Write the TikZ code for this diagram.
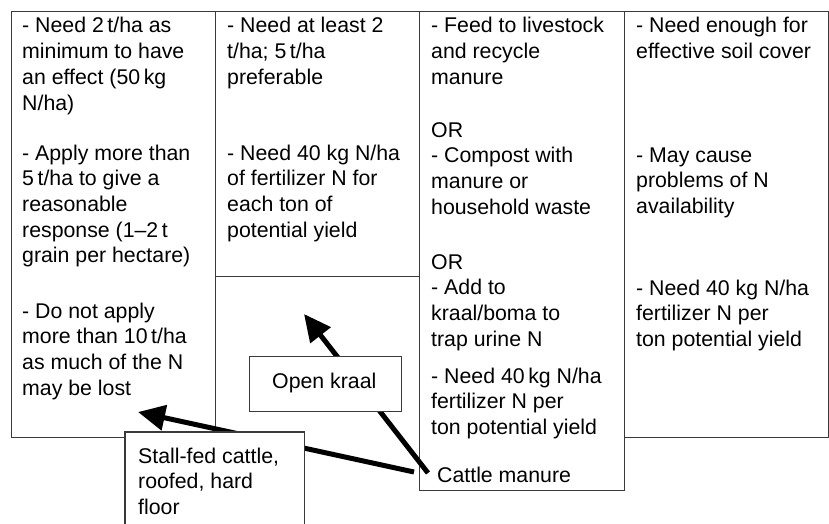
\documentclass[tikz,border=0pt]{standalone}
\usepackage{fontspec}
\setmainfont{Liberation Sans}
\usetikzlibrary{arrows.meta}
\definecolor{bordercol}{HTML}{3A3A3A}
\newcommand{\mylines}[1]{\begin{tabular}[t]{@{}l@{}}#1\end{tabular}}
\begin{document}
\begin{tikzpicture}[x=1pt,y=-1pt,
  cell/.style={draw=bordercol, line width=1.3pt, anchor=north west, inner sep=0pt},
  txt/.style={anchor=base west, inner sep=0pt, font=\fontsize{21.3}{25.7}\selectfont},
  arr/.style={line width=5pt, -{Triangle[length=27pt,width=25pt]}},
  lbl/.style={fill=white, inner sep=0pt, anchor=north west}]
\useasboundingbox (0,0) rectangle (829,524);
\fill[white] (0,0) rectangle (829,524);
% columns
\node[cell, minimum width=204pt, minimum height=426pt] (c1) at (11,11) {};
\node[cell, minimum width=204pt, minimum height=265pt] (c2) at (215,11) {};
\node[cell, minimum width=205pt, minimum height=479pt] (c3) at (419,11) {};
\node[cell, minimum width=204pt, minimum height=426pt] (c4) at (624,11) {};
% column 1 text
\node[txt] (a1) at (22,33) {\mylines{- Need 2\,t/ha as\\minimum to have\\an effect (50\,kg\\N/ha)}};
\node[txt] (a2) at (22,160) {\mylines{- Apply more than\\5\,t/ha to give a\\reasonable\\response (1–2\,t\\grain per hectare)}};
\node[txt] (a3) at (22,318) {\mylines{- Do not apply\\more than 10\,t/ha\\as much of the N\\may be lost}};
% column 2 text
\node[txt] (b1) at (227,33) {\mylines{- Need at least 2\\t/ha; 5\,t/ha\\preferable}};
\node[txt] (b2) at (227,160) {\mylines{- Need 40 kg N/ha\\of fertilizer N for\\each ton of\\potential yield}};
% column 3 text
\node[txt] (d1) at (431,33) {\mylines{- Feed to livestock\\and recycle\\manure}};
\node[txt] (d2) at (431,137) {\mylines{OR\\- Compost with\\manure or\\household waste}};
\node[txt] (d3) at (431,269) {\mylines{OR\\- Add to\\kraal/boma to\\trap urine N}};
\node[txt] (d4) at (431,383) {\mylines{- Need 40\,kg N/ha\\fertilizer N per\\ton potential yield}};
\node[txt] (cm) at (437,482) {Cattle manure};
% column 4 text
\node[txt] (e1) at (636,33) {\mylines{- Need enough for\\effective soil cover}};
\node[txt] (e2) at (636,162) {\mylines{- May cause\\problems of N\\availability}};
\node[txt] (e3) at (636,295) {\mylines{- Need 40 kg N/ha\\fertilizer N per\\ton potential yield}};
% arrows
\coordinate (s1) at (428,473);
\coordinate (s2) at (414,472);
\coordinate (t1) at (304,314);
\coordinate (t2) at (138,412);
\draw[arr] (s1) -- (t1);
\draw[arr] (s2) -- (t2);
% label boxes
\node[lbl, draw=bordercol, line width=1.3pt, minimum width=152pt, minimum height=55pt] (ok) at (249,356) {};
\node[txt] (okt) at (272,388) {Open kraal};
\node[lbl, minimum width=179pt, minimum height=92pt] (sf) at (125,432) {};
\draw[bordercol, line width=1.3pt] (sf.south west) -- (sf.north west) -- (sf.north east) -- (sf.south east);
\node[txt] (sft) at (138,463) {\mylines{Stall-fed cattle,\\roofed, hard\\floor}};
\end{tikzpicture}
\end{document}
